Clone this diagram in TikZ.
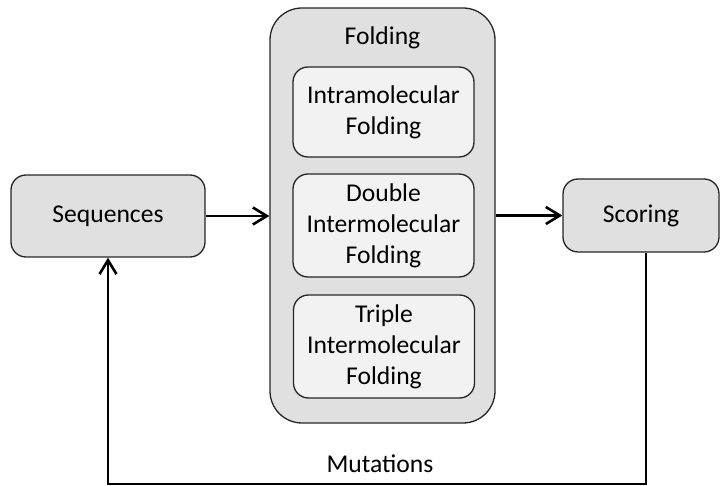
\documentclass[tikz,border=0pt]{standalone}
\usepackage{fontspec}
\setmainfont{Carlito}
\usetikzlibrary{arrows.meta}
\definecolor{boxgray}{RGB}{224,224,224}
\definecolor{innergray}{RGB}{242,242,242}
\newcommand{\boxfont}{\fontsize{25.6}{31}\selectfont}

\begin{document}
\begin{tikzpicture}[x=1pt,y=-1pt,
    stage/.style={draw=black!85, line width=1.3pt, fill=boxgray, rounded corners=15pt,
      inner sep=0pt, align=center, font=\boxfont},
    method/.style={draw=black!85, line width=1.3pt, fill=innergray, rounded corners=15pt,
      inner sep=0pt, align=center, font=\boxfont, minimum width=181pt},
    conn/.style={line width=2.6pt, -{Straight Barb[length=14pt,width=17pt,line width=2.6pt]}}]
  \useasboundingbox (0,0) rectangle (721,486);

  % folding stage with its three methods
  \node (fold) at (382.5,215.5) [stage, rounded corners=32pt, minimum width=225pt, minimum height=415pt] {};
  \node (foldlbl) at (382.5,38) [font=\boxfont] {Folding};
  \node (intra) at (383.5,112) [method, minimum height=90pt] {Intramolecular\\Folding};
  \node (double) at (383.5,225.5) [method, minimum height=103pt] {Double\\Intermolecular\\Folding};
  \node (triple) at (384,346.5) [method, minimum height=103pt] {Triple\\Intermolecular\\Folding};

  % input and output
  \node (seq) at (108,216) [stage, minimum width=194pt, minimum height=82pt] {Sequences};
  \node (score) at (641,215.5) [stage, minimum width=156pt, minimum height=73pt] {Scoring};

  \draw[conn] (seq.east) -- (fold.west |- seq.east);
  \draw[conn] (fold.east |- score.west) -- (score.west);

  % mutation loop back to the sequences
  \coordinate (c1) at (646,484);
  \coordinate (c2) at (108,484);
  \draw[conn] (score.south -| c1) -- (c1) -- (c2) -- (seq.south);
  \node (mut) at (380,464) [font=\boxfont] {Mutations};
\end{tikzpicture}
\end{document}
